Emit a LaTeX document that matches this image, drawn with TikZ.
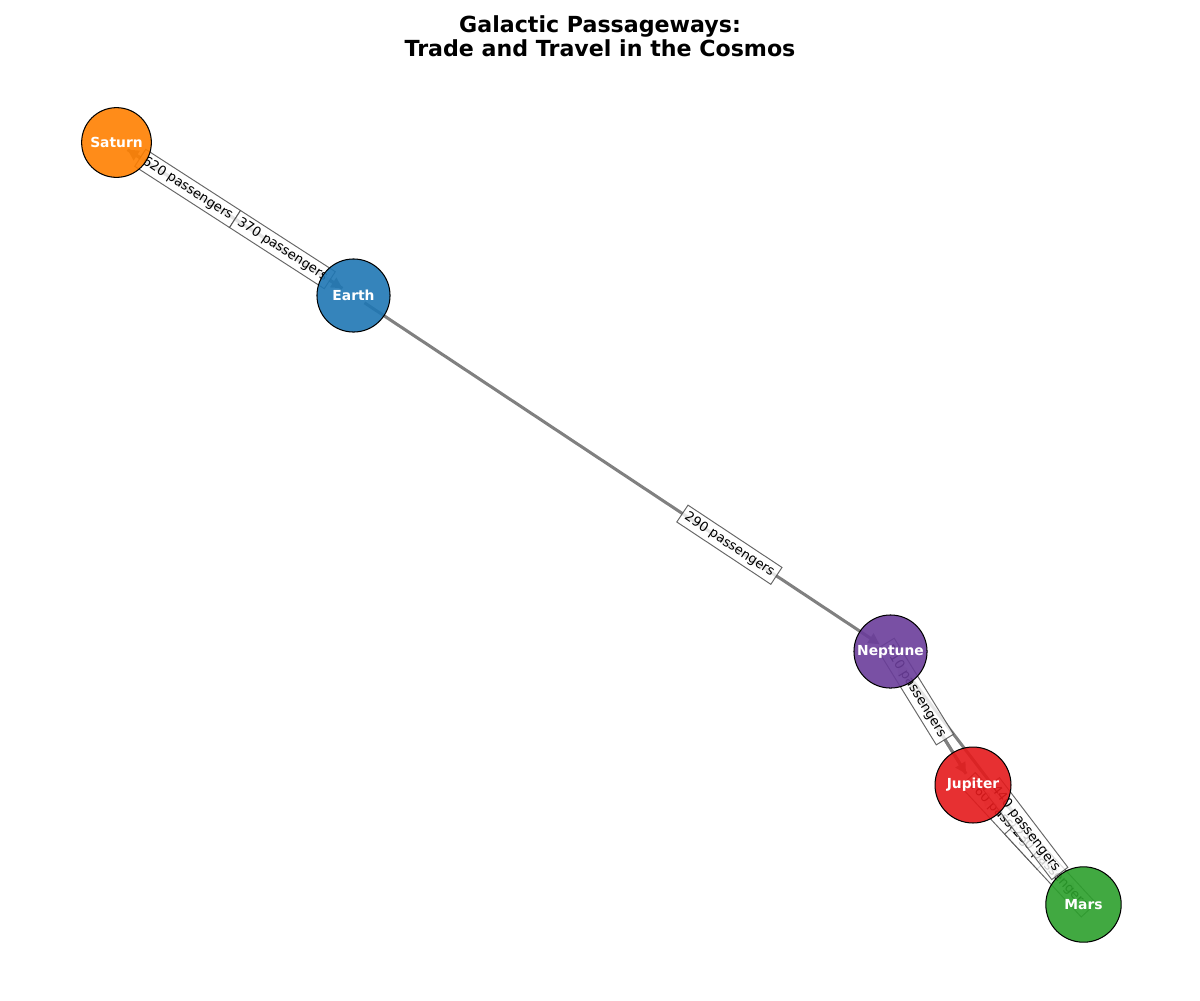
\documentclass[tikz,border=0pt]{standalone}
\usepackage{fontspec}
\setmainfont{DejaVu Sans}
\usetikzlibrary{arrows.meta,backgrounds}
\definecolor{cSat}{HTML}{FF7F00}
\definecolor{cEar}{HTML}{1F77B4}
\definecolor{cNep}{HTML}{6A3D9A}
\definecolor{cJup}{HTML}{E41A1C}
\definecolor{cMar}{HTML}{2CA02C}
\definecolor{cEdge}{HTML}{808080}
\tikzset{
  planet/.style={circle, draw=black, line width=0.75pt, fill opacity=0.9, text opacity=1,
    text=white, font=\fontsize{10}{12}\selectfont\bfseries, inner sep=0pt},
  edgeline/.style={draw=cEdge, line width=2.2pt, -{Triangle[length=8pt,width=8pt]},
    shorten >=9.5pt, shorten <=9.5pt},
  lbl/.style={sloped, fill=white, fill opacity=0.8, text opacity=1, draw=black!70,
    draw opacity=0.85, line width=0.7pt, font=\fontsize{9.5}{11}\selectfont,
    inner xsep=3pt, inner ysep=2.8pt},
  ttl/.style={align=center, font=\fontsize{16}{17.5}\selectfont\bfseries}
}
\begin{document}
\begin{tikzpicture}[x=0.254mm,y=-0.254mm]
\useasboundingbox (0,0) rectangle (1200,1000);
\node[ttl] (title) at (600,36) {Galactic Passageways:\\Trade and Travel in the Cosmos};
\node[planet, fill=cSat, minimum size=50.4pt] (sat) at (116.5,142.5) {Saturn};
\node[planet, fill=cEar, minimum size=52.8pt] (ear) at (353.5,295.5) {Earth};
\node[planet, fill=cNep, minimum size=52.8pt] (nep) at (890.5,651.5) {Neptune};
\node[planet, fill=cJup, minimum size=54.9pt] (jup) at (973,785) {Jupiter};
\node[planet, fill=cMar, minimum size=54.5pt] (mar) at (1083.5,904.5) {Mars};
\begin{scope}[on background layer]
  \draw[edgeline] (ear.center) -- (sat.center);
  \draw[edgeline] (sat.center) -- (ear.center);
  \draw[edgeline] (ear.center) -- (nep.center);
  \draw[edgeline] (jup.center) -- (nep.center);
  \draw[edgeline] (nep.center) -- (jup.center);
  \draw[edgeline] (nep.center) -- (mar.center);
  \draw[edgeline] (mar.center) -- (jup.center);
  \draw[edgeline] (jup.center) -- (mar.center);
  \path (mar.center) -- (jup.center) node[lbl, pos=0.7] (l160) {160 passengers};
  \path (jup.center) -- (mar.center) node[lbl, pos=0.7] (l230) {230 passengers};
  \path (nep.center) -- (mar.center) node[lbl, pos=0.7] (l440) {440 passengers};
  \path (jup.center) -- (nep.center) node[lbl, pos=0.7] (l510) {510 passengers};
  \path (ear.center) -- (nep.center) node[lbl, pos=0.7] (l290) {290 passengers};
  \path (ear.center) -- (sat.center) node[lbl, pos=0.7] (l620) {620 passengers};
  \path (sat.center) -- (ear.center) node[lbl, pos=0.7] (l370) {370 passengers};
\end{scope}
\end{tikzpicture}
\end{document}
